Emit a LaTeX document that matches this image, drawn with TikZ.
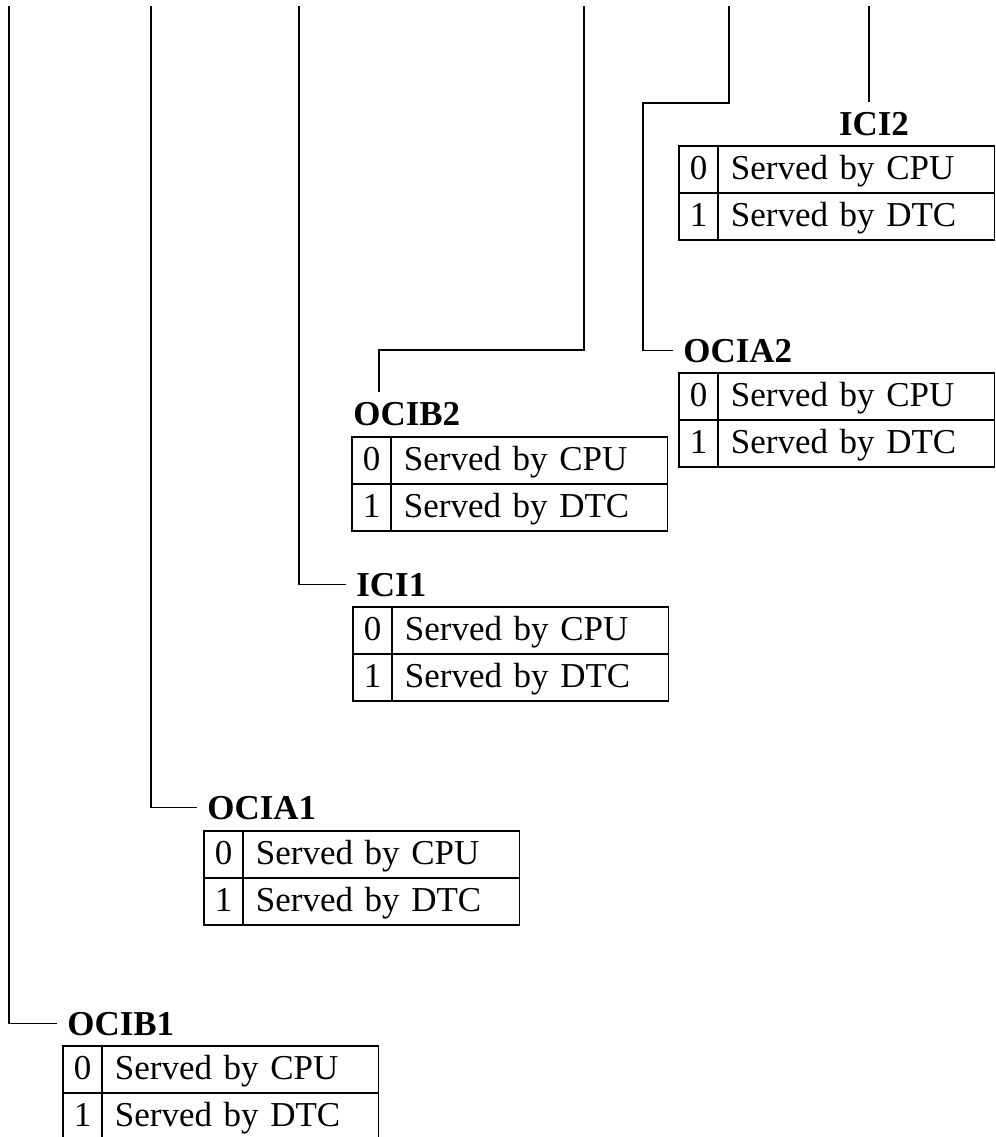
\documentclass[tikz,border=0pt]{standalone}
\usepackage{fontspec}
\setmainfont{Liberation Serif}
\usetikzlibrary{positioning}
\tikzset{
	bitcell/.style={
			draw=black,
			line width=0.6pt,
			outer sep=0pt,
			inner sep=0pt,
			minimum width=0.78cm,
			minimum height=0.94cm,
			text height=0.5cm,
			text depth=0.1cm,
			font=\fontsize{19.9}{24}\selectfont
		},
	desccell/.style={
			bitcell,
			text width=5.02cm,
			inner xsep=0.26cm,
			align=left
		},
	fieldname/.style={
			inner sep=0.2cm,
			font=\fontsize{19.9}{24}\selectfont\bfseries
		},
	wire/.style={
			draw=black,
			line width=0.6pt
		}
}

\begin{document}
\begin{tikzpicture}[x=0.02cm, y=-0.02cm]
\useasboundingbox (0,0) rectangle (996,1137);
    \coordinate (topa) at (9,6);
    \coordinate (topb) at (151,6);
    \coordinate (topc) at (299,6);
    \coordinate (topd) at (584,6);
    \coordinate (tope) at (729,6);
    \coordinate (topf) at (869,6);
    \coordinate (bendd) at (379,350);
    \coordinate (bende) at (643,103);

    \node[fieldname, anchor=base] (ici2) at (874,135) {ICI2};
    \node[bitcell, anchor=north west] (ici2zero) at (679,146) {0};
    \node[desccell, right=0pt of ici2zero] (ici2cpu) {Served by CPU};
    \node[bitcell, below=0pt of ici2zero] (ici2one) {1};
    \node[desccell, right=0pt of ici2one] (ici2dtc) {Served by DTC};

    \node[fieldname, anchor=base west] (ocia2) at (673,362) {OCIA2};
    \node[bitcell, anchor=north west] (ocia2zero) at (679,373) {0};
    \node[desccell, right=0pt of ocia2zero] (ocia2cpu) {Served by CPU};
    \node[bitcell, below=0pt of ocia2zero] (ocia2one) {1};
    \node[desccell, right=0pt of ocia2one] (ocia2dtc) {Served by DTC};

    \node[fieldname, anchor=base west] (ocib2) at (343,425) {OCIB2};
    \node[bitcell, anchor=north west] (ocib2zero) at (352,437) {0};
    \node[desccell, right=0pt of ocib2zero] (ocib2cpu) {Served by CPU};
    \node[bitcell, below=0pt of ocib2zero] (ocib2one) {1};
    \node[desccell, right=0pt of ocib2one] (ocib2dtc) {Served by DTC};

    \node[fieldname, anchor=base west] (ici1) at (346,596) {ICI1};
    \node[bitcell, anchor=north west] (ici1zero) at (353,607) {0};
    \node[desccell, right=0pt of ici1zero] (ici1cpu) {Served by CPU};
    \node[bitcell, below=0pt of ici1zero] (ici1one) {1};
    \node[desccell, right=0pt of ici1one] (ici1dtc) {Served by DTC};

    \node[fieldname, anchor=base west] (ocia1) at (197,819) {OCIA1};
    \node[bitcell, anchor=north west] (ocia1zero) at (204,831) {0};
    \node[desccell, right=0pt of ocia1zero] (ocia1cpu) {Served by CPU};
    \node[bitcell, below=0pt of ocia1zero] (ocia1one) {1};
    \node[desccell, right=0pt of ocia1one] (ocia1dtc) {Served by DTC};

    \node[fieldname, anchor=base west] (ocib1) at (57,1035) {OCIB1};
    \node[bitcell, anchor=north west] (ocib1zero) at (63,1046) {0};
    \node[desccell, right=0pt of ocib1zero] (ocib1cpu) {Served by CPU};
    \node[bitcell, below=0pt of ocib1zero] (ocib1one) {1};
    \node[desccell, right=0pt of ocib1one] (ocib1dtc) {Served by DTC};

    \draw[wire] (topa) |- (ocib1.west);
    \draw[wire] (topb) |- (ocia1.west);
    \draw[wire] (topc) |- (ici1.west);
    \draw[wire] (topd) |- (bendd) -- (bendd |- ocib2.north);
    \draw[wire] (tope) |- (bende) |- (ocia2.west);
    \draw[wire] (topf) -- (topf |- ici2.north);

\end{tikzpicture}
\end{document}
